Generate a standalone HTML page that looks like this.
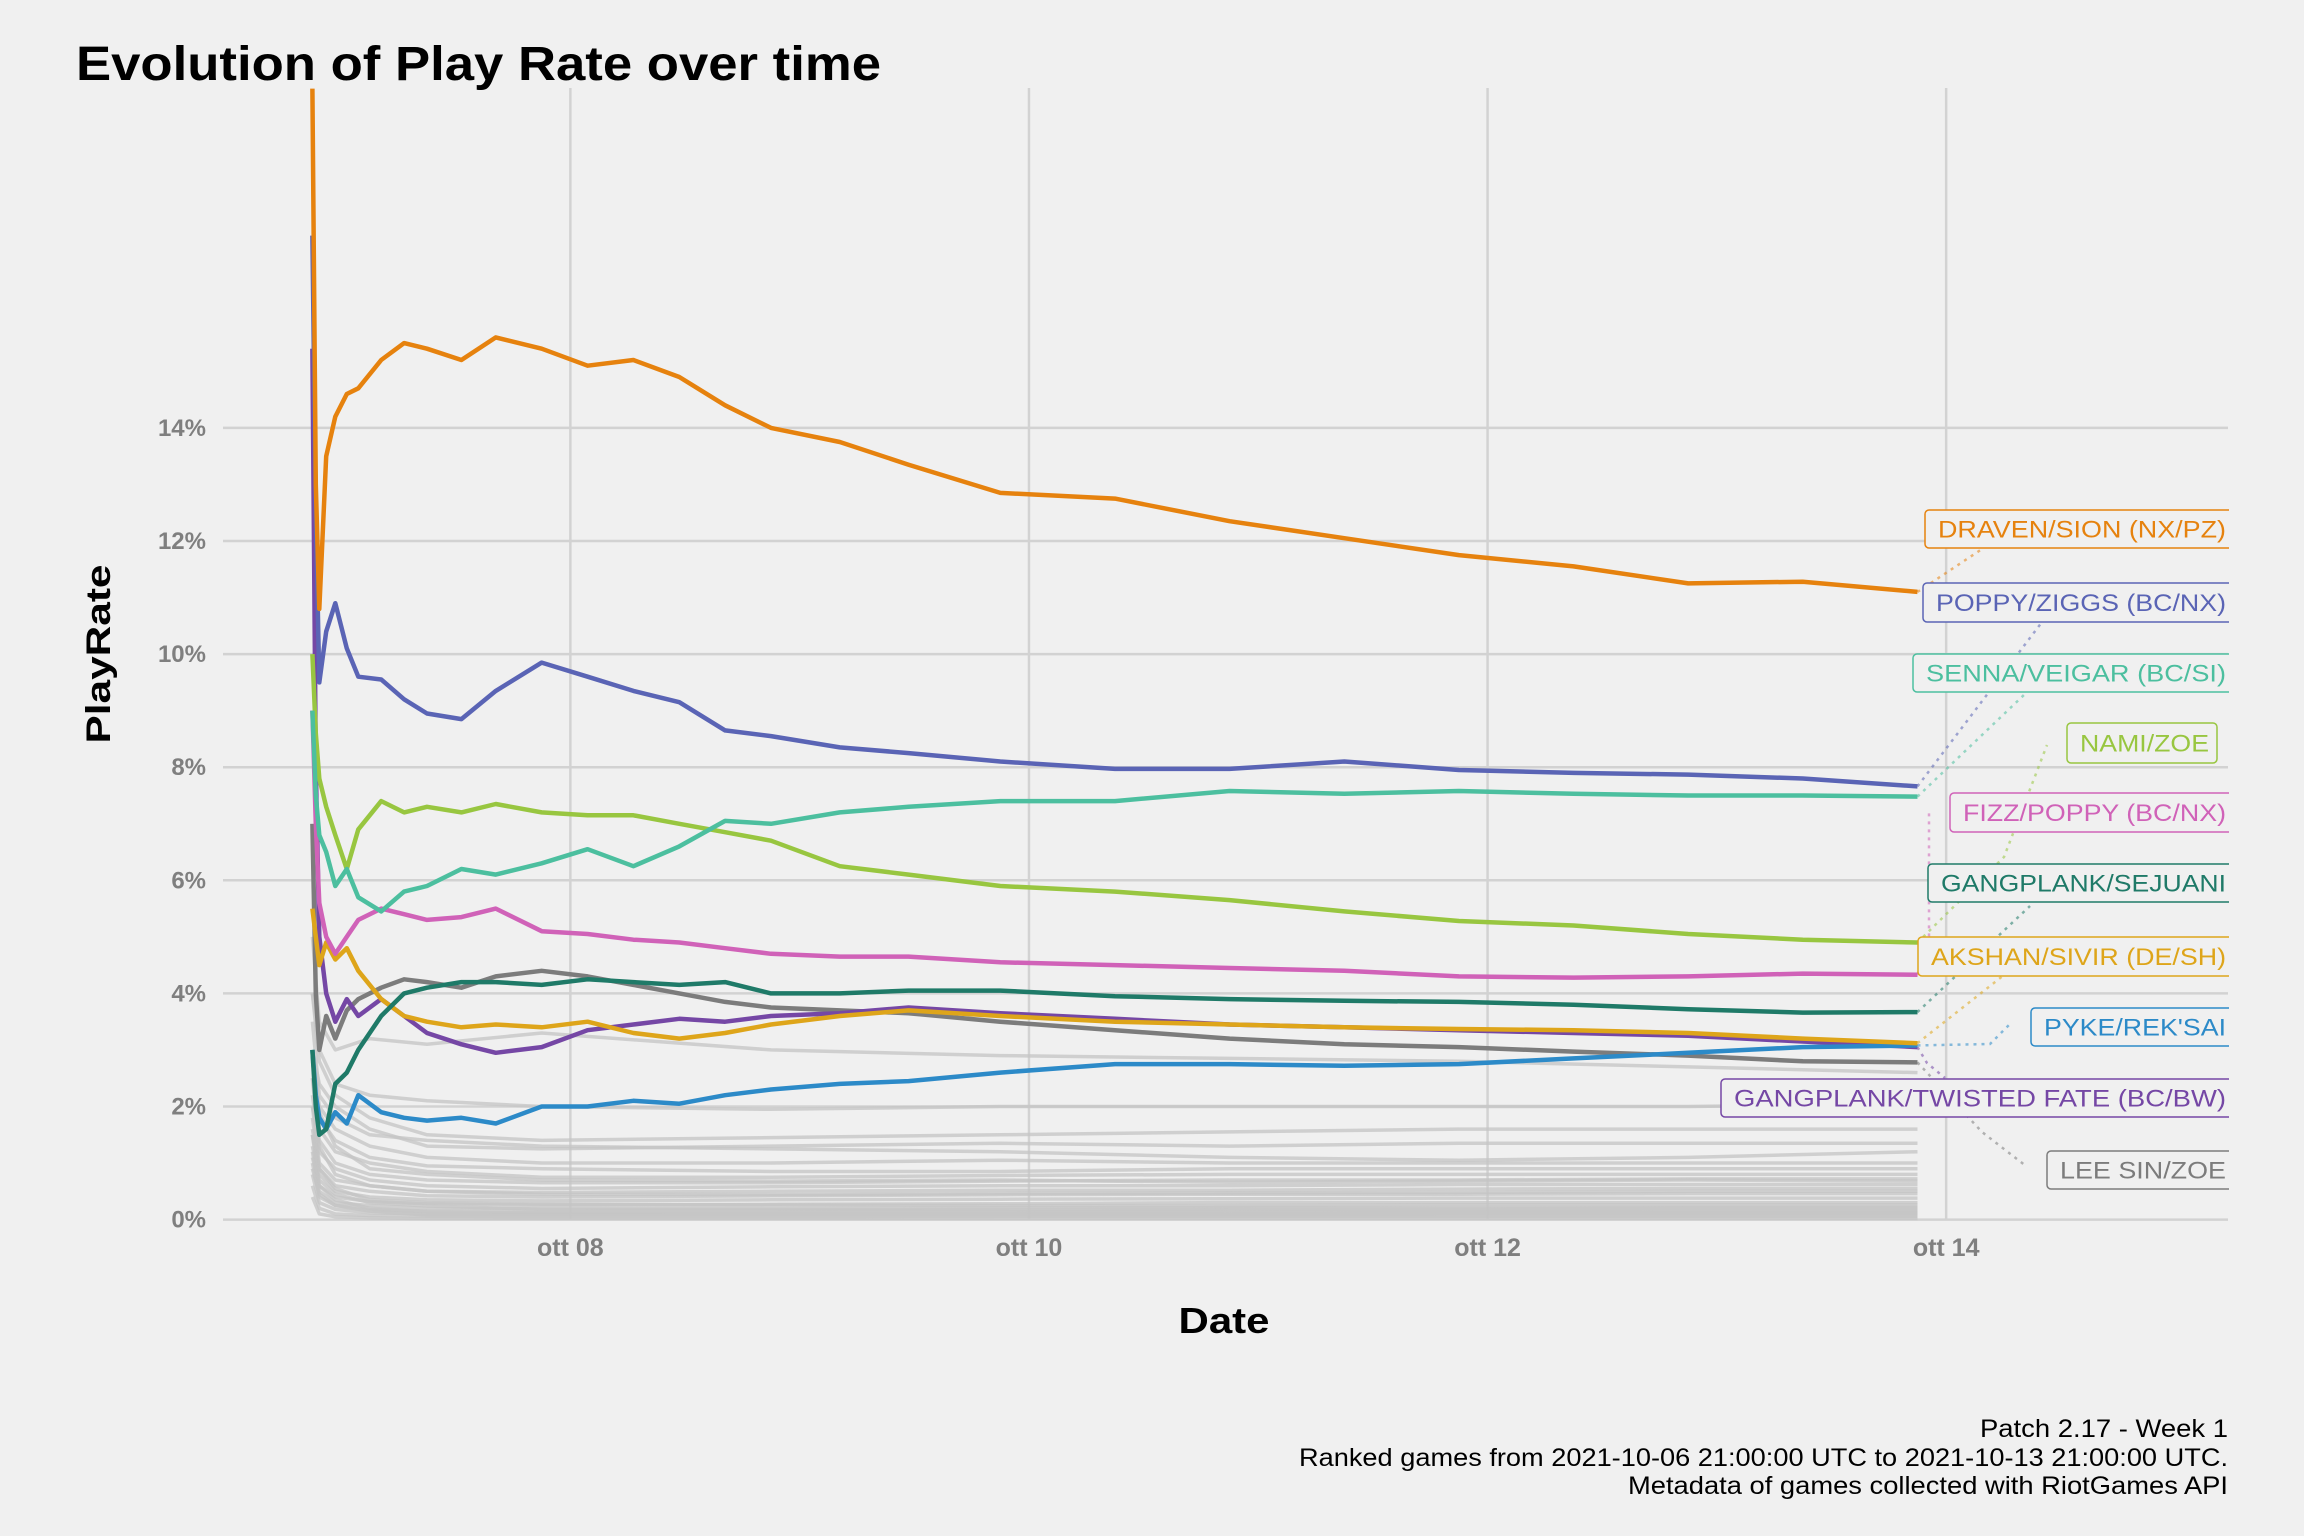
<!DOCTYPE html>
<html><head><meta charset="utf-8"><style>
html,body{margin:0;padding:0;background:#f0f0f0}
svg{display:block}
text{font-family:"Liberation Sans",sans-serif}
</style></head><body>
<svg id="chart" width="2304" height="1536" viewBox="0 0 2304 1536" xmlns="http://www.w3.org/2000/svg">
<rect width="2304" height="1536" fill="#f0f0f0"/>
<defs><clipPath id="plotclip"><rect x="223" y="88" width="2005" height="1140"/></clipPath>
<clipPath id="labclip"><rect x="0" y="0" width="2229" height="1536"/></clipPath></defs>
<text x="76" y="80" font-size="48" font-weight="bold" fill="#000" textLength="805" lengthAdjust="spacingAndGlyphs">Evolution of Play Rate over time</text>
<g id="grid"></g>
<g id="axes"></g>
<g id="bg" clip-path="url(#plotclip)"></g>
<g id="fg" clip-path="url(#plotclip)"></g>
<g id="leaders"></g>
<g id="labels" clip-path="url(#labclip)"></g>
<text transform="translate(110,654) rotate(-90)" text-anchor="middle" font-size="34" font-weight="bold" fill="#000" textLength="179" lengthAdjust="spacingAndGlyphs">PlayRate</text>
<text x="1224" y="1333" text-anchor="middle" font-size="36" font-weight="bold" fill="#000" textLength="91" lengthAdjust="spacingAndGlyphs">Date</text>
<g font-size="25" fill="#000" text-anchor="end">
<text x="2228" y="1437" textLength="248" lengthAdjust="spacingAndGlyphs">Patch 2.17 - Week 1</text>
<text x="2228" y="1466" textLength="929" lengthAdjust="spacingAndGlyphs">Ranked games from 2021-10-06 21:00:00 UTC to 2021-10-13 21:00:00 UTC.</text>
<text x="2228" y="1494" textLength="600" lengthAdjust="spacingAndGlyphs">Metadata of games collected with RiotGames API</text>
</g>
</svg>
<script>
// time in days since 2021-10-06 21:00 UTC
const T = [0,0.015,0.03,0.06,0.1,0.15,0.2,0.3,0.4,0.5,0.65,0.8,1.0,1.2,1.4,1.6,1.8,2.0,2.3,2.6,3.0,3.5,4.0,4.5,5.0,5.5,6.0,6.5,7.0];
const draven  = [20,13,10.8,13.5,14.2,14.6,14.7,15.2,15.5,15.4,15.2,15.6,15.4,15.1,15.2,14.9,14.4,14.0,13.75,13.35,12.85,12.75,12.35,12.05,11.75,11.55,11.25,11.28,11.1];
const poppyZiggs = [17.4,12.5,9.5,10.4,10.9,10.1,9.6,9.55,9.2,8.95,8.85,9.35,9.85,9.6,9.35,9.15,8.65,8.55,8.35,8.25,8.1,7.97,7.97,8.1,7.95,7.9,7.87,7.8,7.66];
const senna   = [9,7.5,6.8,6.5,5.9,6.2,5.7,5.45,5.8,5.9,6.2,6.1,6.3,6.55,6.25,6.6,7.05,7.0,7.2,7.3,7.4,7.4,7.58,7.53,7.58,7.53,7.5,7.5,7.48];
const nami    = [10,8.6,7.8,7.3,6.8,6.2,6.9,7.4,7.2,7.3,7.2,7.35,7.2,7.15,7.15,7.0,6.85,6.7,6.25,6.1,5.9,5.8,5.65,5.45,5.28,5.2,5.05,4.95,4.9];
const fizz    = [9,7,5.6,5.0,4.7,5.0,5.3,5.5,5.4,5.3,5.35,5.5,5.1,5.05,4.95,4.9,4.8,4.7,4.65,4.65,4.55,4.5,4.45,4.4,4.3,4.28,4.3,4.35,4.33];
const sejuani = [3,2.0,1.5,1.6,2.4,2.6,3.0,3.6,4.0,4.1,4.2,4.2,4.15,4.25,4.2,4.15,4.2,4.0,4.0,4.05,4.05,3.95,3.9,3.87,3.85,3.8,3.72,3.66,3.67];
const akshan  = [5.5,5.0,4.5,4.9,4.6,4.8,4.4,3.9,3.6,3.5,3.4,3.45,3.4,3.5,3.3,3.2,3.3,3.45,3.6,3.7,3.6,3.5,3.45,3.4,3.37,3.35,3.3,3.2,3.12];
const pyke    = [3,2.2,1.8,1.6,1.9,1.7,2.2,1.9,1.8,1.75,1.8,1.7,2.0,2.0,2.1,2.05,2.2,2.3,2.4,2.45,2.6,2.75,2.75,2.72,2.75,2.85,2.95,3.05,3.08];
const gpTf    = [15.4,8,5,4.0,3.5,3.9,3.6,3.9,3.6,3.3,3.1,2.95,3.05,3.35,3.45,3.55,3.5,3.6,3.65,3.75,3.65,3.55,3.45,3.4,3.35,3.3,3.25,3.15,3.05];
const leeSin  = [7,4,3.0,3.6,3.2,3.7,3.9,4.1,4.25,4.2,4.1,4.3,4.4,4.3,4.15,4.0,3.85,3.75,3.7,3.65,3.5,3.35,3.2,3.1,3.05,2.97,2.9,2.8,2.78];
const seriesNames = ["DRAVEN/SION (NX/PZ)","POPPY/ZIGGS (BC/NX)","SENNA/VEIGAR (BC/SI)","NAMI/ZOE","FIZZ/POPPY (BC/NX)","GANGPLANK/SEJUANI","AKSHAN/SIVIR (DE/SH)","PYKE/REK'SAI","GANGPLANK/TWISTED FATE (BC/BW)","LEE SIN/ZOE"];
const seriesValues = [draven,poppyZiggs,senna,nami,fizz,sejuani,akshan,pyke,gpTf,leeSin];
// background series (other matchups)
const BG_T = [0,0.03,0.1,0.25,0.5,1,2,3,4,5,6,7];
const bg1 = [5,3.5,3.0,3.2,3.1,3.3,3.0,2.9,2.85,2.8,2.7,2.6];
const bg2 = [4,3,2.4,2.2,2.1,2.0,1.95,2.0,2.0,2.0,2.0,2.05];
const bg3 = [4,2.8,2.2,1.8,1.5,1.4,1.45,1.5,1.55,1.6,1.6,1.6];
const bg4 = [3,2.4,2.0,1.6,1.3,1.25,1.3,1.35,1.3,1.35,1.35,1.35];
const bg5 = [3.5,2.2,1.8,1.5,1.4,1.3,1.25,1.2,1.1,1.05,1.1,1.2];
const bg6 = [3,2.0,1.6,1.3,1.1,1.0,1.0,1.05,1.0,1.0,1.0,1.0];
const bg7 = [2.5,1.8,1.4,1.1,0.95,0.9,0.85,0.85,0.9,0.9,0.9,0.9];
const bg8 = [3,1.6,1.2,1.0,0.85,0.75,0.75,0.78,0.8,0.8,0.8,0.8];
const bg9 = [2,1.4,1.0,0.8,0.7,0.65,0.65,0.68,0.7,0.7,0.72,0.72];
const bg10 = [2.5,1.2,0.9,0.7,0.6,0.55,0.58,0.6,0.6,0.62,0.62,0.62];
const bg11 = [2,1.0,0.7,0.6,0.5,0.48,0.5,0.52,0.52,0.54,0.55,0.55];
const bg12 = [1.8,0.9,0.6,0.5,0.42,0.4,0.42,0.44,0.45,0.45,0.46,0.46];
const bg13 = [1.5,0.8,0.5,0.4,0.35,0.33,0.35,0.36,0.37,0.38,0.38,0.38];
const bg14 = [1.5,0.6,0.4,0.32,0.28,0.26,0.27,0.28,0.3,0.3,0.3,0.3];
const bg15 = [1.2,0.5,0.3,0.25,0.2,0.2,0.2,0.21,0.22,0.22,0.22,0.22];
const bg16 = [1,0.4,0.25,0.18,0.15,0.14,0.15,0.15,0.16,0.16,0.16,0.16];
const bg17 = [0.8,0.3,0.18,0.12,0.1,0.1,0.1,0.1,0.1,0.11,0.11,0.11];
const bg18 = [0.6,0.2,0.1,0.07,0.06,0.05,0.05,0.06,0.06,0.06,0.06,0.06];
const bg19 = [0.4,0.1,0.05,0.03,0.02,0.02,0.02,0.02,0.02,0.02,0.02,0.02];
const bg20 = [2.2,1.3,0.8,0.6,0.5,0.45,0.44,0.46,0.47,0.48,0.5,0.5];
const bg21 = [1.6,0.9,0.55,0.35,0.3,0.27,0.26,0.25,0.25,0.26,0.26,0.26];
const bg22 = [1.3,0.7,0.45,0.3,0.24,0.18,0.18,0.18,0.19,0.19,0.2,0.2];
const bg23 = [1.1,0.6,0.35,0.2,0.14,0.12,0.12,0.13,0.13,0.14,0.14,0.14];
const bg24 = [0.9,0.45,0.25,0.15,0.08,0.08,0.08,0.08,0.08,0.08,0.08,0.08];
const bg25 = [2.8,1.9,1.3,0.9,0.8,0.7,0.68,0.7,0.66,0.68,0.7,0.68];
const bgValues = [bg1,bg2,bg3,bg4,bg5,bg6,bg7,bg8,bg9,bg10,bg11,bg12,bg13,bg14,bg15,bg16,bg17,bg18,bg19,bg20,bg21,bg22,bg23,bg24,bg25];
const yTicks = [0,2,4,6,8,10,12,14];
const xTickDays = [1.125,3.125,5.125,7.125];
const xTickLabels = ["ott 08","ott 10","ott 12","ott 14"];

const colors = ["#e6820e","#5a64b5","#4cbf9f","#98c640","#d062b8","#1f7a68","#dea51a","#2c8ac8","#7547a5","#7c7c7c"];
const boxes = [[1925,510,548],[1923,583,622],[1913,654,692],[2067,723,763,2217],[1950,793,832],[1928,864,902],[1918,937,976],[2031,1008,1046],[1721,1079,1117],[2047,1151,1189]];
const leaderPts = [[[1982,549]],[[2042,622]],[[2026,693]],[[2004,857],[2047,745]],[[1929,936],[1929,813]],[[2030,906]],[[2004,975]],[[1990,1044],[2010,1024]],[[1927,1063],[1945,1078]],[[1982,1132],[2026,1166]]];

const NS = "http://www.w3.org/2000/svg";
const X0 = 312.4, PX_PER_DAY = 229.3, Y0 = 1219.6, PX_PER_PCT = 56.55;
function xScale(d){ return X0 + d*PX_PER_DAY; }
function yScale(v){ return Y0 - v*PX_PER_PCT; }
function mk(tag, attrs, parent){ const e=document.createElementNS(NS,tag); for(const k in attrs) e.setAttribute(k,attrs[k]); parent.appendChild(e); return e; }

const grid=document.getElementById('grid'), axes=document.getElementById('axes');
yTicks.forEach(v=>{
  const l=mk('line',{x1:223,x2:2228,y1:yScale(v),y2:yScale(v),stroke:'#d2d2d2','stroke-width':2.5},grid);
  
  
  const t=mk('text',{x:206,y:yScale(v)+8,'text-anchor':'end','font-size':24,'font-weight':'bold',fill:'#7f7f7f'},axes);
  t.textContent=v+'%';
  
  
});
xTickDays.forEach((d,i)=>{
  const l=mk('line',{x1:xScale(d),x2:xScale(d),y1:88,y2:1219.6,stroke:'#d2d2d2','stroke-width':2.5},grid);
  
  
  const t=mk('text',{x:xScale(d),y:1256,'text-anchor':'middle','font-size':25,'font-weight':'bold',fill:'#7f7f7f'},axes);
  t.textContent=xTickLabels[i];
  
  
});

function pathFor(ts, vs){ return vs.map((v,i)=>(i?'L':'M')+xScale(ts[i]).toFixed(1)+','+yScale(v).toFixed(1)).join(''); }
const bgG=document.getElementById('bg');
bgValues.forEach(vs=>{
  const p=mk('path',{d:pathFor(BG_T,vs),fill:'none',stroke:'#c4c4c4','stroke-width':3.5,'stroke-opacity':0.75,'stroke-linejoin':'round'},bgG);
  
  
});
const fg=document.getElementById('fg'), lg=document.getElementById('leaders'), lab=document.getElementById('labels');
for(let i=seriesValues.length-1;i>=0;i--){
  const vs=seriesValues[i];
  const p=mk('path',{d:pathFor(T,vs),fill:'none',stroke:colors[i],'stroke-width':4.5,'stroke-linejoin':'round'},fg);
  
  
}
seriesValues.forEach((vs,i)=>{
  const ex=xScale(T[T.length-1]), ey=yScale(vs[vs.length-1]);
  const pts=[[ex,ey]].concat(leaderPts[i]);
  const pl=mk('polyline',{points:pts.map(p=>p.join(',')).join(' '),fill:'none',stroke:colors[i],'stroke-opacity':0.55,'stroke-width':2.5,'stroke-dasharray':'3 5'},lg);
  
  
  const b=boxes[i], right=b[3]||2240;
  const g=mk('g',{},lab);
  
  
  mk('rect',{x:b[0],y:b[1],width:right-b[0],height:b[2]-b[1],rx:4,fill:'#f0f0f0',stroke:colors[i],'stroke-width':1.5},g);
  const tr=(b[3]?b[3]-8:2226);
  const t=mk('text',{x:b[0]+13,y:(b[1]+b[2])/2+8.5,'font-size':24,fill:colors[i],textLength:tr-b[0]-13,lengthAdjust:'spacingAndGlyphs'},g);
  t.textContent=seriesNames[i];
});
</script>
</body></html>
